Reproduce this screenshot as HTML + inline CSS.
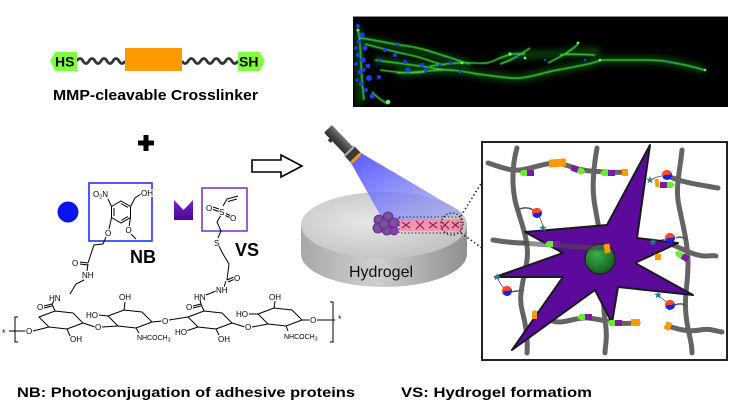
<!DOCTYPE html>
<html><head><meta charset="utf-8"><style>
html,body{margin:0;padding:0;background:#fff;}
svg{display:block;}
</style></head><body>
<svg width="736" height="416" viewBox="0 0 736 416" xmlns="http://www.w3.org/2000/svg" font-family="'Liberation Sans', Arial, sans-serif">
<defs>
 <linearGradient id="side" x1="0" y1="0" x2="1" y2="0">
  <stop offset="0" stop-color="#a8a8a8"/><stop offset="0.45" stop-color="#cfcfcf"/><stop offset="1" stop-color="#8f8f8f"/>
 </linearGradient>
 <radialGradient id="top" cx="0.4" cy="0.45" r="0.7">
  <stop offset="0" stop-color="#e6e6e6"/><stop offset="1" stop-color="#bdbdbd"/>
 </radialGradient>
 <linearGradient id="beam" x1="0" y1="0" x2="1" y2="1">
  <stop offset="0" stop-color="#4f4fff" stop-opacity="0.95"/><stop offset="1" stop-color="#a9aef0" stop-opacity="0.7"/>
 </linearGradient>
 <linearGradient id="fl" x1="0" y1="0" x2="0" y2="1">
  <stop offset="0" stop-color="#777"/><stop offset="0.5" stop-color="#4a4a4a"/><stop offset="1" stop-color="#2e2e2e"/>
 </linearGradient>
 <radialGradient id="nuc" cx="0.4" cy="0.35" r="0.7">
  <stop offset="0" stop-color="#3fae4a"/><stop offset="1" stop-color="#0d5a1c"/>
 </radialGradient>
 <linearGradient id="mshape" x1="0" y1="0" x2="0" y2="1">
  <stop offset="0" stop-color="#7a22c8"/><stop offset="1" stop-color="#4a0896"/>
 </linearGradient>
 <filter id="bl" x="-5%" y="-20%" width="110%" height="140%"><feGaussianBlur stdDeviation="0.6"/></filter>
 <filter id="bl2" x="-10%" y="-50%" width="120%" height="200%"><feGaussianBlur stdDeviation="3"/></filter>
 <clipPath id="boxclip"><rect x="483" y="143" width="243" height="216"/></clipPath>
 <clipPath id="micclip"><rect x="353" y="16" width="375" height="91"/></clipPath>
 <g id="tag"><rect x="-7" y="-3" width="7" height="6" fill="#7a1aa8"/><path d="M0,-3 L5,-3 L8,0 L5,3 L0,3Z" fill="#66ee33"/></g>
 <g id="ball"><circle r="5" fill="#1122ee"/><path d="M-5,0 A5,5 0 0 1 5,0 Q2.5,2 0,0 Q-2.5,-2 -5,0Z" fill="#ff4a1c" transform="rotate(-30)"/></g>
 <path id="star" d="M0,-4 L1,-1.2 L3.8,-1.2 L1.6,0.6 L2.4,3.4 L0,1.7 L-2.4,3.4 L-1.6,0.6 L-3.8,-1.2 L-1,-1.2Z" fill="#2a7f8f"/>
</defs>

<rect width="736" height="416" fill="#fff"/>

<!-- Crosslinker -->
<path d="M77,61 q3,-5 6,0 t6,0 t6,0 t6,0 t6,0 t6,0 t6,0 t6,0" fill="none" stroke="#333" stroke-width="2.8"/>
<path d="M182,61 q3.1,5 6.22,0 t6.22,0 t6.22,0 t6.22,0 t6.22,0 t6.22,0 t6.22,0 t6.22,0 t6.22,0" fill="none" stroke="#333" stroke-width="2.8"/>
<rect x="125" y="48" width="57" height="23" fill="#ff9900"/>
<path d="M50,61 L55,52 L77,52 L77,71 L55,71Z" fill="#80ff40"/>
<path d="M238,52 L260,52 L265,61 L260,71 L238,71Z" fill="#80ff40"/>
<text x="55" y="66.5" font-size="14" font-weight="bold" fill="#000">HS</text>
<text x="239" y="66.5" font-size="14" font-weight="bold" fill="#000">SH</text>
<text x="53" y="100" font-size="15" font-weight="bold" fill="#000" textLength="205" lengthAdjust="spacingAndGlyphs">MMP-cleavable Crosslinker</text>

<!-- plus -->
<rect x="138" y="140.5" width="16" height="5" fill="#000"/>
<rect x="143.5" y="135" width="5" height="16" fill="#000"/>

<!-- hollow arrow -->
<path d="M252,160 L281,160 L281,155 L302,166 L281,177 L281,172 L252,172Z" fill="#fff" stroke="#000" stroke-width="1.6"/>

<!-- blue circle and M shape -->
<circle cx="68" cy="212" r="10.5" fill="#0a14f0"/>
<path d="M174,200 L183.5,210 L193,200 L193,220 L174,220Z" fill="url(#mshape)"/>

<!-- NB box -->
<rect x="89" y="183" width="63" height="58" fill="none" stroke="#2233ee" stroke-width="1.6"/>
<g stroke="#000" stroke-width="1" fill="none">
 <path d="M121,201 L130.5,206.5 L130.5,217.5 L121,223 L111.5,217.5 L111.5,206.5Z"/>
 <path d="M114,208 L114,216 M121,220.5 L128,216.5 M121,203.5 L128,207.5"/>
 <path d="M111.5,206.5 L108,199"/>
 <path d="M130.5,206.5 L135,198 L141,194"/>
 <path d="M111.5,217.5 L109,229"/>
 <path d="M130.5,217.5 L129,227 M131,234 L136,239"/>
 <path d="M106,237 L103,244 L94,245 L90,257 L88,263 M88,263 L80,262 M88,265 L80,264 M88,264 L87,271"/>
 <path d="M84,280 L76,284 L70,294"/>
</g>
<g font-size="8" fill="#000" stroke="#fff" stroke-width="2" paint-order="stroke">
 <text x="93" y="197">O<tspan font-size="5.5" dy="1.5">2</tspan><tspan dy="-1.5">N</tspan></text>
 <text x="141" y="196">OH</text>
 <text x="105" y="236">O</text>
 <text x="125.5" y="233">O</text>
 <text x="72" y="266">O</text>
 <text x="82" y="278">NH</text>
</g>
<text x="130" y="263" font-size="18" font-weight="bold" fill="#000">NB</text>

<!-- VS box -->
<rect x="202" y="188" width="45" height="43" fill="none" stroke="#7a2bc0" stroke-width="1.5"/>
<g stroke="#000" stroke-width="1" fill="none">
 <path d="M213,207 L219,209 M213,209.5 L219,211.5"/>
 <path d="M226,213.5 L230,215.5 M225.5,215.5 L229.5,217.5"/>
 <path d="M223,206 L227,199 L238,196 M228,201.5 L237,199"/>
 <path d="M221,215 L217,222 L221,231 L218,238"/>
 <path d="M219,246 L223,254 L229,264 L227,280 M227,280 L234,277 M228,282 L235,279 M226,281 L224,287"/>
 <path d="M206,295 L216,291"/>
</g>
<g font-size="8" fill="#000" stroke="#fff" stroke-width="2" paint-order="stroke">
 <text x="206" y="211">O</text>
 <text x="219" y="215">S</text>
 <text x="230" y="221">O</text>
 <text x="214" y="246">S</text>
 <text x="234" y="281">O</text>
 <text x="216" y="293">NH</text>
 <text x="194" y="300">HN</text>
 <text x="49" y="301">HN</text>
</g>
<text x="235" y="256" font-size="18" font-weight="bold" fill="#000">VS</text>

<!-- HA backbone -->
<g stroke="#000" stroke-width="1" fill="none">
 <path d="M39,317 L55,311 L73,313 L83,323 L67,329 L49,327Z"/>
 <path d="M108,316 L124,310 L142,312 L152,322 L136,328 L118,326Z"/>
 <path d="M188,317 L204,311 L222,313 L232,323 L216,329 L198,327Z"/>
 <path d="M258,314 L274,308 L292,310 L302,320 L286,326 L268,324Z"/>
 <path d="M9,331 L26,331 M33,331 L49,327"/>
 <path d="M18,317 L15,317 L15,342 L18,342"/>
 <path d="M330,302 L333,302 L333,342 L330,342"/>
 <path d="M83,323 L95,327 M102,327 L118,326"/>
 <path d="M55,311 L52,304 M52,304 L44,306 M52,306 L44,308 M52,304 L54,301"/>
 <path d="M67,329 L70,336"/>
 <path d="M99,315 L108,316 M124,310 L125,302 M136,328 L139,333"/>
 <path d="M152,322 L162,321 M169,320 L188,317"/>
 <path d="M204,311 L201,304 M201,304 L193,306 M201,306 L193,308 M201,304 L200,300"/>
 <path d="M186,331 L198,327 M216,329 L219,335"/>
 <path d="M232,323 L245,327 M252,327 L268,324"/>
 <path d="M249,314 L258,314 M274,308 L275,301 M286,326 L288,331"/>
 <path d="M302,320 L310,320 M317,320 L335,320"/>
</g>
<g font-size="8" fill="#000" stroke="#fff" stroke-width="2" paint-order="stroke">
 <text x="2" y="336" font-size="9">*</text>
 <text x="26" y="334">O</text>
 <text x="37" y="310">O</text>
 <text x="70" y="342">OH</text>
 <text x="95" y="330">O</text>
 <text x="86" y="318">HO</text>
 <text x="119" y="300">OH</text>
 <text x="137" y="340" font-size="7">NHCOCH<tspan font-size="5" dy="1.5">3</tspan></text>
 <text x="162" y="324">O</text>
 <text x="186" y="310">O</text>
 <text x="175" y="335">HO</text>
 <text x="218" y="342">OH</text>
 <text x="245" y="330">O</text>
 <text x="236" y="317">HO</text>
 <text x="269" y="300">OH</text>
 <text x="284" y="339" font-size="7">NHCOCH<tspan font-size="5" dy="1.5">3</tspan></text>
 <text x="310" y="323">O</text>
 <text x="338" y="322" font-size="9">*</text>
</g>

<!-- Microscopy -->
<rect x="353" y="16" width="375" height="91" fill="#000"/>
<line x1="353" y1="16.5" x2="728" y2="16.5" stroke="#8a8a8a" stroke-width="1"/>
<g clip-path="url(#micclip)">
 <g fill="none" stroke="#1f9a1f" stroke-width="9" opacity="0.35" filter="url(#bl2)">
  <path d="M360,40 C380,42 400,48 420,52 S455,62 470,64"/>
  <path d="M375,60 C390,62 405,64 420,66 S440,70 452,70"/>
  <path d="M397,73 C415,73 435,69 450,70 S475,74 485,75 S510,79 520,78 S540,74 548,72 S575,67 588,64 S598,60 605,60 S630,60 645,60 S665,61 680,64 S698,68 704,70"/>
  <path d="M358,28 L360,104"/>
  <path d="M500,58 C520,54 540,55 560,54 S585,50 600,52"/>
 </g>
 <g fill="none" stroke="#35d535" stroke-width="1.6" filter="url(#bl)">
  <path d="M360,38 C375,40 392,44 407,46 S432,52 445,56 S462,62 470,64"/>
  <path d="M365,44 C380,48 395,52 410,55 S430,62 445,65"/>
  <path d="M375,60 C390,62 405,64 420,66 S440,70 452,70"/>
  <path d="M397,73 C415,73 435,69 450,70 S475,74 485,75 S510,79 520,78 S540,74 548,72 S575,67 588,64 S598,60 605,60 S630,60 645,60 S665,61 680,64 S698,68 704,70"/>
  <path d="M430,66 C445,64 460,62 475,63 S490,62 500,58 S515,53 525,54"/>
  <path d="M548,63 C558,58 570,52 578,44"/>
  <path d="M560,55 C570,53 585,55 595,55"/>
  <path d="M530,48 C520,55 512,60 500,64"/>
  <path d="M372,92 C378,98 384,102 388,104"/>
  <path d="M358,30 C362,50 360,70 364,100"/>
  <path d="M380,70 C395,72 410,74 425,72"/>
 </g>
 <g fill="#6dff4d">
  <circle cx="510" cy="54" r="1.6"/><circle cx="525" cy="58" r="1.4"/><circle cx="578" cy="43" r="1.4"/>
  <circle cx="600" cy="60" r="1.3"/><circle cx="705" cy="70" r="1.3"/><circle cx="462" cy="63" r="1.3"/>
  <circle cx="388" cy="102" r="2.2"/><circle cx="358" cy="30" r="1.4"/>
 </g>
 <g fill="#1e3cff">
  <circle cx="358" cy="26" r="2"/><circle cx="362" cy="35" r="2.6"/><circle cx="359" cy="42" r="2.2"/>
  <circle cx="365" cy="48" r="2.6"/><circle cx="358" cy="55" r="2.2"/><circle cx="363" cy="60" r="2.8"/>
  <circle cx="368" cy="66" r="2.4"/><circle cx="360" cy="72" r="2.4"/><circle cx="369" cy="78" r="3"/>
  <circle cx="361" cy="84" r="2.2"/><circle cx="379" cy="77" r="2"/><circle cx="372" cy="96" r="2.6"/>
  <circle cx="356" cy="64" r="1.8"/><circle cx="366" cy="90" r="2"/><circle cx="380" cy="60" r="1.8"/>
  <circle cx="385" cy="50" r="2"/><circle cx="395" cy="55" r="2"/><circle cx="405" cy="62" r="2"/>
  <circle cx="408" cy="70" r="2.6"/><circle cx="422" cy="65" r="2"/><circle cx="426" cy="70" r="2"/>
  <circle cx="440" cy="65" r="1.6"/><circle cx="451" cy="63" r="1.8"/><circle cx="460" cy="72" r="1.5"/>
  <circle cx="518" cy="57" r="1.2"/><circle cx="545" cy="60" r="1.2"/><circle cx="585" cy="60" r="1.2"/>
  <circle cx="669" cy="63" r="1.3"/><circle cx="398" cy="44" r="1.6"/><circle cx="356" cy="48" r="1.8"/>
  <circle cx="364" cy="70" r="1.8"/><circle cx="357" cy="80" r="1.6"/>
 </g>
</g>

<!-- Hydrogel disk -->
<path d="M301,225 L301,254 A83,33 0 0 0 467,254 L467,225Z" fill="url(#side)"/>
<ellipse cx="384" cy="225" rx="83" ry="33" fill="url(#top)"/>
<text x="349" y="277" font-size="16" fill="#111">Hydrogel</text>

<!-- beam -->
<path d="M351,163 L361,153 L463,213 Q425,224 383,220Z" fill="url(#beam)"/>

<!-- pink band + cells -->
<rect x="399" y="219" width="64" height="12" fill="#ff7d9a" opacity="0.7"/>
<g fill="#8a40b4" stroke="#5e2486" stroke-width="0.8">
 <circle cx="379" cy="220" r="5"/><circle cx="388" cy="217" r="5"/><circle cx="394" cy="223" r="5"/>
 <circle cx="387" cy="230" r="5"/><circle cx="378" cy="228" r="5"/><circle cx="384" cy="224" r="5"/>
 <circle cx="394" cy="231" r="4"/>
</g>
<g fill="#2a9a2a">
 <circle cx="379" cy="220" r="1.5"/><circle cx="388" cy="217" r="1.5"/><circle cx="394" cy="223" r="1.5"/>
 <circle cx="387" cy="230" r="1.5"/><circle cx="378" cy="228" r="1.5"/><circle cx="384" cy="224" r="1.5"/>
</g>
<g stroke="#a0156a" stroke-width="1.2" fill="none">
 <path d="M402,222 L410,228 M402,228 L410,222"/>
 <path d="M416,221 L424,229 M416,229 L424,221"/>
 <path d="M429,222 L437,228 M429,228 L437,222"/>
 <path d="M441,221 L449,229 M441,229 L449,221"/>
 <path d="M452,222 L459,228 M452,228 L459,222"/>
</g>
<rect x="399" y="217" width="62" height="16" fill="none" stroke="#333" stroke-width="1" stroke-dasharray="1.5,2"/>
<circle cx="452" cy="224" r="11" fill="none" stroke="#222" stroke-width="1.2" stroke-dasharray="1.5,2"/>
<path d="M461,216 L482,182 M461,233 L482,248" stroke="#222" stroke-width="1.5" stroke-dasharray="1.5,2.5"/>

<!-- flashlight -->
<g transform="translate(330,131) rotate(46)">
 <rect x="-3" y="-5.5" width="31" height="11" rx="1.5" fill="url(#fl)"/>
 <rect x="5" y="5" width="4" height="3" fill="#333"/>
 <rect x="27" y="-7" width="10" height="14" fill="#3a3a3a"/>
 <rect x="27" y="-7" width="2" height="14" fill="#b0b0b0"/>
 <rect x="36" y="-6" width="3" height="12" fill="#ff9a00"/>
</g>

<!-- Big box -->
<rect x="482" y="142" width="245" height="218" fill="#fff" stroke="#222" stroke-width="2"/>
<g clip-path="url(#boxclip)">
 <g fill="none" stroke="#4a4a4a" stroke-width="5" stroke-linecap="round" opacity="0.85">
  <path d="M517,148 C512,165 512,185 515,200 S530,240 527,260 S518,295 522,310 S528,340 527,353"/>
  <path d="M597,148 C594,165 592,185 594,200 S600,230 602,250 S602,300 605,320 S605,345 605,353"/>
  <path d="M682,150 C680,170 676,185 678,200 S688,240 688,263 S684,295 686,315 S692,340 692,353"/>
  <path d="M488,163 C500,167 510,171 520,170 S545,163 555,163 S575,170 590,171 S615,173 625,172"/>
  <path d="M668,176 C680,182 700,185 718,188"/>
  <path d="M673,245 C685,250 695,256 705,256 S712,255 716,256"/>
  <path d="M535,313 C545,318 552,322 560,322 S578,317 588,318 S610,322 618,323 S632,323 638,323"/>
  <path d="M668,326 C680,330 690,332 700,330 S715,331 722,332"/>
  <path d="M493,240 C505,242 515,243 525,243"/>
 </g>
 <g fill="none" stroke="#555" stroke-width="1.5">
  <path d="M518,210 C525,206 532,208 537,213"/>
  <path d="M512,292 C516,290 520,292 524,290"/>
  <path d="M675,305 C680,303 684,304 686,306"/>
  <path d="M676,238 C680,236 684,238 688,240"/>
 </g>
 <g fill="none" stroke="#444" stroke-width="0.7">
  <path d="M650,180 Q658,176 667,175"/>
  <path d="M537,213 Q542,220 543,228"/>
  <path d="M653,242 Q661,240 670,238"/>
  <path d="M497,277 Q500,285 507,291"/>
  <path d="M658,295 Q664,300 670,305"/>
 </g>
 <polygon points="650,145 637,238 678,243 635,263 693,295 618,287 612,323 595,290 512,350 563,277 495,277 563,253 525,232 607,225" fill="#5c0a9c" stroke="#1a1a1a" stroke-width="2" stroke-linejoin="round"/>
 <circle cx="600" cy="259" r="15" fill="url(#nuc)" stroke="#222" stroke-width="1.5"/>
 <path d="M525,243 C545,245 555,245 565,246 S590,248 607,248" fill="none" stroke="#4a4a4a" stroke-width="5" stroke-linecap="round" opacity="0.6"/>
 <g fill="#ff9900">
  <rect x="549" y="159" width="17" height="8" transform="rotate(-5 557 163)"/>
  <rect x="622" y="169" width="6" height="7"/>
  <rect x="655" y="179" width="4" height="8" transform="rotate(-10 657 183)"/>
  <rect x="604" y="244" width="6" height="9" transform="rotate(-10 607 248)"/>
  <rect x="655" y="254" width="6" height="6"/>
  <rect x="532" y="311" width="5" height="8"/>
  <rect x="631" y="319" width="9" height="7"/>
  <rect x="665" y="322" width="6" height="8" transform="rotate(25 668 326)"/>
 </g>
 <use href="#tag" transform="translate(527,173) rotate(180)"/>
 <use href="#tag" transform="translate(578,170) rotate(20)"/>
 <use href="#tag" transform="translate(608,173) rotate(180)"/>
 <use href="#tag" transform="translate(667,185)"/>
 <use href="#tag" transform="translate(553,244) rotate(180)"/>
 <use href="#tag" transform="translate(682,256) rotate(210)"/>
 <use href="#tag" transform="translate(585,317) rotate(180)"/>
 <use href="#tag" transform="translate(615,323) rotate(180)"/>
 <use href="#ball" transform="translate(667,175)"/>
 <use href="#ball" transform="translate(537,213)"/>
 <use href="#ball" transform="translate(670,238)"/>
 <use href="#ball" transform="translate(507,291)"/>
 <use href="#ball" transform="translate(670,305)"/>
 <use href="#star" transform="translate(650,180)"/>
 <use href="#star" transform="translate(543,228)"/>
 <use href="#star" transform="translate(653,242)"/>
 <use href="#star" transform="translate(497,277)"/>
 <use href="#star" transform="translate(658,295)"/>
</g>

<!-- bottom captions -->
<text x="17" y="397" font-size="14" font-weight="bold" fill="#000" textLength="338" lengthAdjust="spacingAndGlyphs">NB: Photoconjugation of adhesive proteins</text>
<text x="401" y="397" font-size="14" font-weight="bold" fill="#000" textLength="191" lengthAdjust="spacingAndGlyphs">VS: Hydrogel formatiom</text>
</svg>
</body></html>
